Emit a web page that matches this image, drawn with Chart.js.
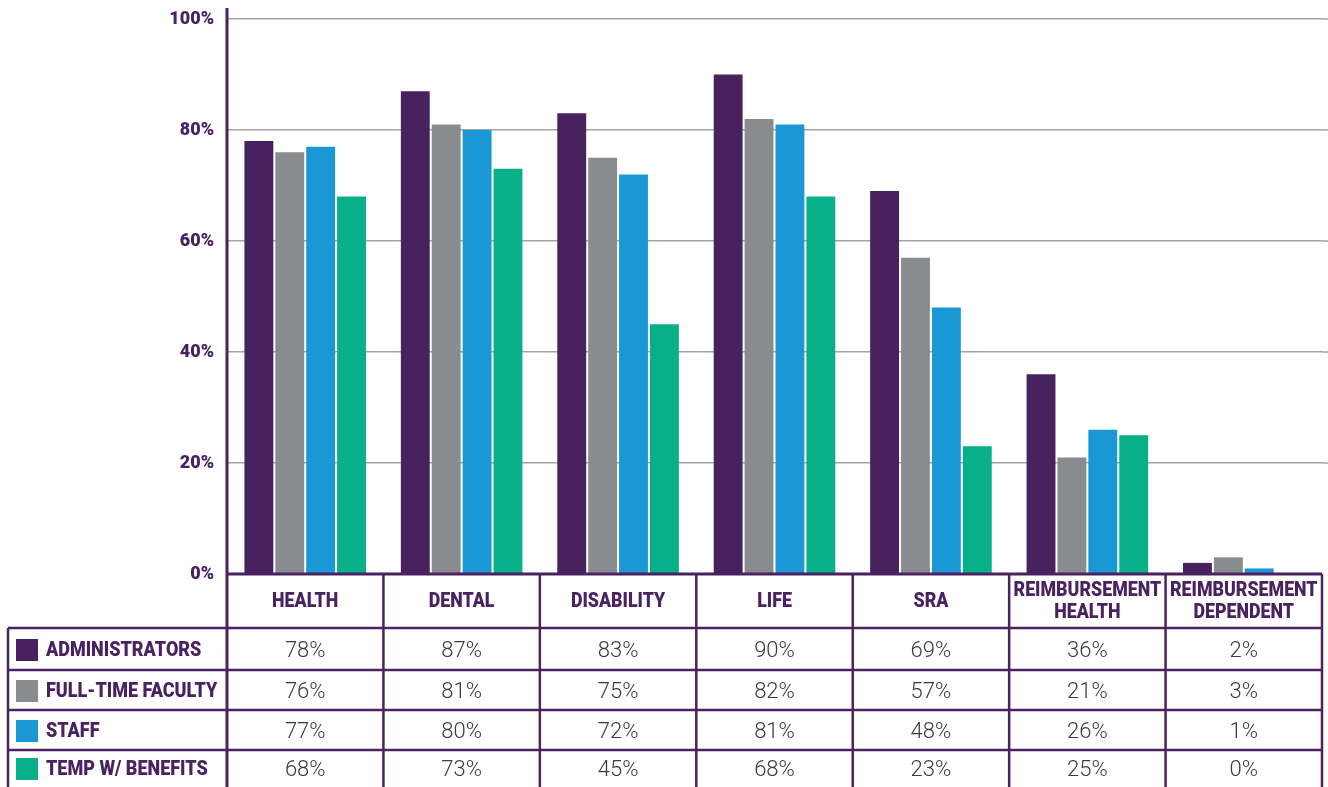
<!DOCTYPE html>
<html>
<head>
<meta charset="utf-8">
<script src="https://cdn.jsdelivr.net/npm/chart.js@4"></script>
<style>
  body { margin: 0; background: #fff; }
  #wrap { width: 1328px; height: 787px; position: relative; }
</style>
</head>
<body>
<div id="wrap"><canvas id="grafico"></canvas></div>
<script>
const categorias = [['HEALTH'], ['DENTAL'], ['DISABILITY'], ['LIFE'], ['SRA'],
  ['REIMBURSEMENT', 'HEALTH'], ['REIMBURSEMENT', 'DEPENDENT']];
const series = ['ADMINISTRATORS', 'FULL-TIME FACULTY', 'STAFF', 'TEMP W/ BENEFITS'];
const administrators = [78, 87, 83, 90, 69, 36, 2];
const fullTimeFaculty = [76, 81, 75, 82, 57, 21, 3];
const staff = [77, 80, 72, 81, 48, 26, 1];
const tempBenefits = [68, 73, 45, 68, 23, 25, 0];

const roxo = '#4a2262';
const cores = ['#48225f', '#898c8e', '#1a98d5', '#08b089'];
const valores = [administrators, fullTimeFaculty, staff, tempBenefits];

function texto(ctx, t, x, y, align, sx) {
  ctx.save();
  ctx.translate(x, y);
  ctx.scale(sx, 1);
  ctx.textAlign = align;
  ctx.textBaseline = 'middle';
  ctx.fillText(t, 0, 0);
  ctx.restore();
}

const tabela = {
  id: 'tabela',
  afterDraw(chart) {
    const { ctx, chartArea: { left, right, top, bottom } } = chart;
    const colW = (right - left) / categorias.length;
    const linhas = [bottom + 54, bottom + 96, bottom + 136, bottom + 176];
    const fim = 787;

    ctx.save();
    // grid lines run a bit past the table
    ctx.strokeStyle = '#a3a3a3';
    ctx.lineWidth = 1.5;
    chart.scales.y.ticks.forEach(t => {
      if (t.value === 0) return;
      const y = chart.scales.y.getPixelForValue(t.value);
      ctx.beginPath(); ctx.moveTo(right, y); ctx.lineTo(1328, y); ctx.stroke();
    });

    ctx.strokeStyle = roxo;
    ctx.lineWidth = 3;
    ctx.beginPath(); ctx.moveTo(left, 8); ctx.lineTo(left, fim); ctx.stroke();
    ctx.beginPath(); ctx.moveTo(left, bottom); ctx.lineTo(right, bottom); ctx.stroke();

    ctx.lineWidth = 2.5;
    for (let k = 1; k <= categorias.length; k++) {
      const x = left + k * colW;
      ctx.beginPath(); ctx.moveTo(x, bottom); ctx.lineTo(x, fim); ctx.stroke();
    }
    ctx.beginPath(); ctx.moveTo(8, linhas[0]); ctx.lineTo(8, fim); ctx.stroke();
    linhas.forEach(y => {
      ctx.beginPath(); ctx.moveTo(8, y); ctx.lineTo(right, y); ctx.stroke();
    });

    // cabecalho
    ctx.fillStyle = roxo;
    ctx.font = '900 20px Roboto';
    const cabY = bottom + 28;
    categorias.forEach((c, i) => {
      const cx = left + (i + 0.5) * colW;
      if (c.length === 1) texto(ctx, c[0], cx, cabY, 'center', 0.89);
      else c.forEach((l, j) => texto(ctx, l, cx, cabY - 11 + j * 22, 'center', 0.89));
    });

    // linhas da tabela
    const centros = [bottom + 77, bottom + 118, bottom + 158, bottom + 196];
    series.forEach((s, r) => {
      const y = centros[r];
      ctx.fillStyle = cores[r];
      ctx.fillRect(16, y - 12, 22, 22);
      ctx.fillStyle = roxo;
      ctx.font = '900 20px Roboto';
      texto(ctx, s, 46, y, 'left', 0.9);
      ctx.fillStyle = '#3a3a3a';
      ctx.font = '300 22px Roboto';
      valores[r].forEach((v, i) => {
        texto(ctx, v + '%', left + (i + 0.5) * colW, y, 'center', 1);
      });
    });
    ctx.restore();
  }
};

new Chart(document.getElementById('grafico'), {
  type: 'bar',
  data: {
    labels: categorias.map(c => c.join(' ')),
    datasets: series.map((s, i) => ({
      label: s,
      data: valores[i],
      backgroundColor: cores[i],
      barPercentage: 0.935,
      categoryPercentage: 0.79
    }))
  },
  options: {
    responsive: true,
    maintainAspectRatio: false,
    animation: false,
    layout: { padding: { top: 19, right: 6, bottom: 213, left: 0 } },
    plugins: { legend: { display: false }, tooltip: { enabled: false } },
    scales: {
      x: { display: false },
      y: {
        min: 0,
        max: 100,
        afterFit: s => { s.width = 227; s.paddingTop = 0; s.paddingBottom = 0; },
        border: { display: false },
        grid: {
          drawTicks: false,
          lineWidth: 1.5,
          color: c => c.tick && c.tick.value === 0 ? roxo : '#a3a3a3'
        },
        ticks: {
          stepSize: 20,
          padding: 13,
          color: roxo,
          font: { family: 'Roboto', weight: '900', size: 18 },
          callback: v => v + '%'
        }
      }
    }
  },
  plugins: [tabela]
});
</script>
</body>
</html>
